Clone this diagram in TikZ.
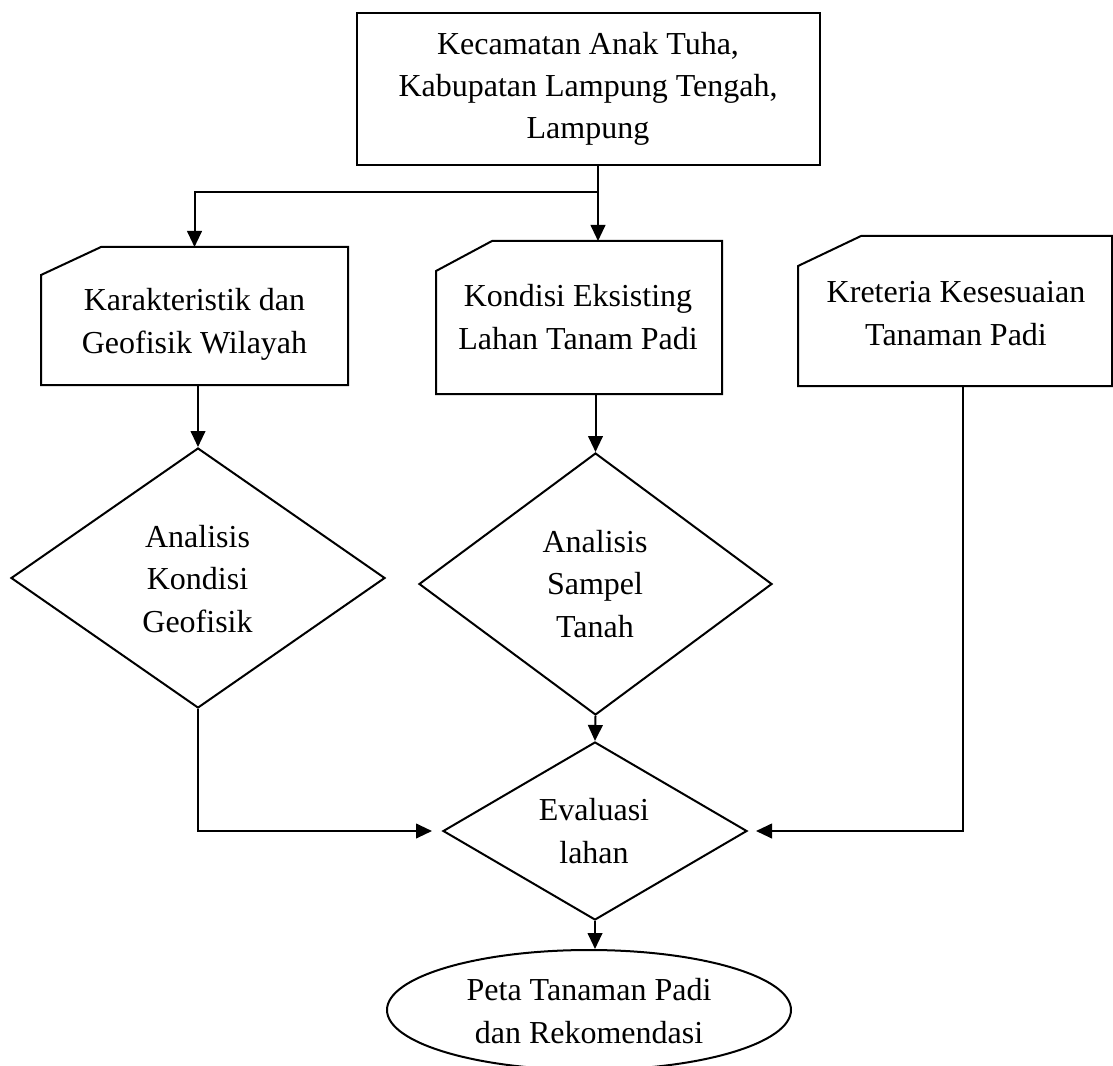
\documentclass[tikz,border=0pt]{standalone}
\usepackage{fontspec}
\setmainfont{Liberation Serif}
\usetikzlibrary{arrows.meta,shapes.geometric,calc}
\begin{document}
\begin{tikzpicture}[x=0.75pt,y=-0.75pt,
  line width=1.5pt,
  lbl/.style={anchor=base, align=center, inner sep=0pt, font=\fontsize{24}{31.8}\selectfont},
  frame/.style={draw, rectangle, inner sep=0pt},
  holder/.style={rectangle, inner sep=0pt},
  dia/.style={draw, diamond, inner sep=0pt},
  ell/.style={draw, ellipse, inner sep=0pt},
  arr/.style={-{Triangle[length=12pt,width=11pt]}},
]
\useasboundingbox (0,0) rectangle (1113,1066);
\clip (0,0) rectangle (1113,1066);

% top box
\node[frame, minimum width=347.25pt, minimum height=114pt] (top) at (588.5,89) {};
\node[lbl] (tTop) at (588,139) {Kecamatan Anak Tuha,\\Kabupatan Lampung Tengah,\\Lampung};

% cards (rectangles with a cut top-left corner)
\node[holder, minimum width=228.75pt, minimum height=102pt] (c1) at (194.5,316) {};
\node[holder, minimum width=213pt, minimum height=113.25pt] (c2) at (579,317.5) {};
\node[holder, minimum width=234pt, minimum height=111pt] (c3) at (955,311) {};
\draw (c1.south west) -- ($(c1.north west)+(0,28)$) -- ($(c1.north west)+(60,0)$) -- (c1.north east) -- (c1.south east) -- cycle;
\draw (c2.south west) -- ($(c2.north west)+(0,30)$) -- ($(c2.north west)+(56,0)$) -- (c2.north east) -- (c2.south east) -- cycle;
\draw (c3.south west) -- ($(c3.north west)+(0,30)$) -- ($(c3.north west)+(63,0)$) -- (c3.north east) -- (c3.south east) -- cycle;
\node[lbl] (tC1) at (194.5,353.3) {Karakteristik dan\\Geofisik Wilayah};
\node[lbl] (tC2) at (578,349) {Kondisi Eksisting\\Lahan Tanam Padi};
\node[lbl] (tC3) at (956,345) {Kreteria Kesesuaian\\Tanaman Padi};

% diamonds
\node[dia, minimum width=280.5pt, minimum height=195pt] (d1) at (198,578) {};
\node[dia, minimum width=264.75pt, minimum height=196.5pt] (d2) at (595.5,584) {};
\node[dia, minimum width=228pt, minimum height=133.5pt] (d3) at (595,831) {};
\node[lbl] (tD1) at (197.5,632) {Analisis\\Kondisi\\Geofisik};
\node[lbl] (tD2) at (595,637) {Analisis\\Sampel\\Tanah};
\node[lbl] (tD3) at (594,863) {Evaluasi\\lahan};

% ellipse
\node[ell, minimum width=303pt, minimum height=90pt] (out) at (589,1010) {};
\begin{scope}
\clip (0,0) rectangle (1113,1046);
\node[lbl] (tOut) at (589,1043) {Peta Tanaman Padi\\dan Rekomendasi};
\end{scope}

% connectors
\coordinate (split) at (598,192);
\draw (top.south -| split) -- (split);
\draw[arr] (split) -- (split |- c2.north);
\draw[arr] (split) -| (c1.north);
\draw[arr] (c1.south) -- (c1.south -| d1.north) -- (d1.north);
\draw[arr] (d2.north |- c2.south) -- (d2.north);
\draw[arr] (d2.south) -- (d3.north);
\draw[arr, shorten >=7.5pt] (d1.south) |- (d3.west);
\coordinate (c3out) at (963,385);
\draw[arr, shorten >=6pt] (c3out) |- (d3.east);
\draw[arr] (d3.south) -- (d3.south |- out.north);
\end{tikzpicture}
\end{document}
